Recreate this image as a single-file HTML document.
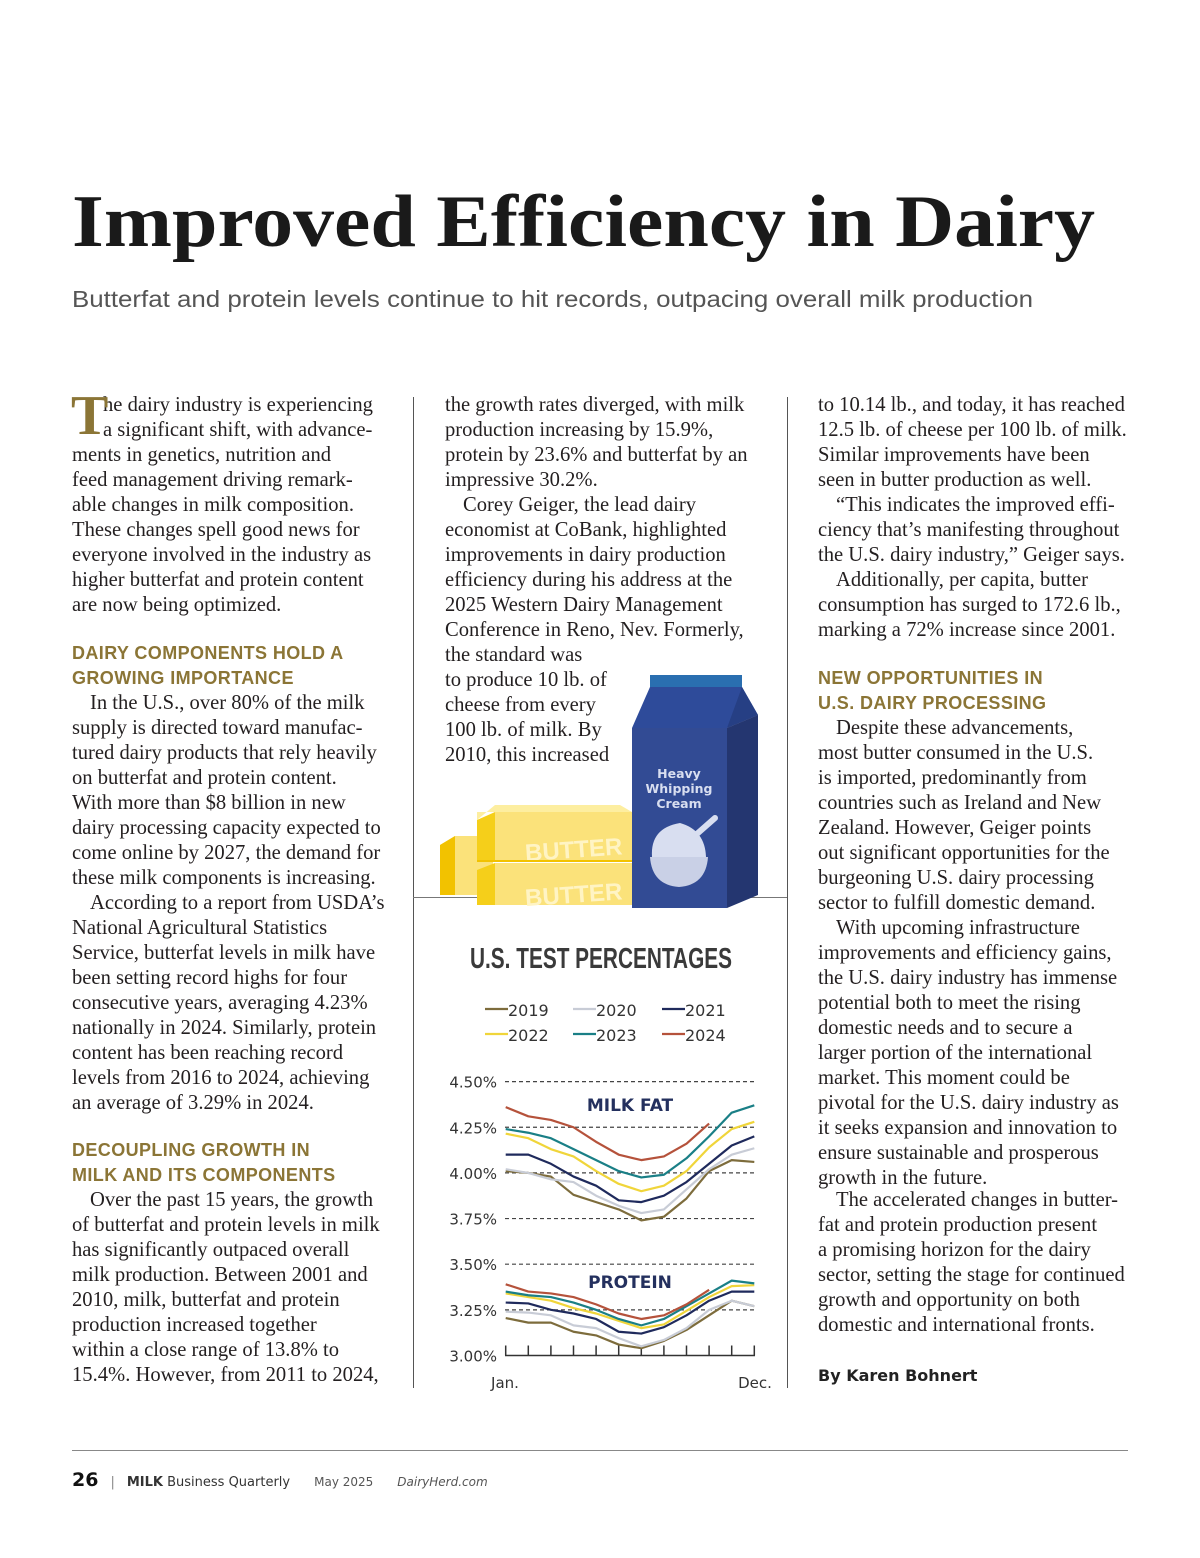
<!DOCTYPE html>
<html><head><meta charset="utf-8">
<style>
body{margin:0;background:#fff}
#page{position:relative;width:1200px;height:1558px;overflow:hidden;background:#fff;font-family:"Liberation Serif",serif;color:#231f20}
.l{position:absolute;font-size:20.6px;line-height:25px;white-space:nowrap;height:25px}
.h{position:absolute;font-family:"Liberation Sans",sans-serif;font-weight:bold;font-size:18px;line-height:25px;color:#8b7536;letter-spacing:0.4px;white-space:nowrap}
.rule{position:absolute;background:#555}
</style></head><body>
<div id="page">
<svg width="1200" height="340" style="position:absolute;left:0;top:0">
<text x="72" y="246" textLength="1023" lengthAdjust="spacingAndGlyphs" font-family="Liberation Serif,serif" font-weight="bold" font-size="74" fill="#1a1a1a">Improved Efficiency in Dairy</text>
<text x="72" y="307" textLength="961" lengthAdjust="spacingAndGlyphs" font-family="Liberation Sans,sans-serif" font-size="23" fill="#555">Butterfat and protein levels continue to hit records, outpacing overall milk production</text>
</svg>
<div class="rule" style="left:413px;top:397px;width:1px;height:991px"></div>
<div class="rule" style="left:787px;top:397px;width:1px;height:991px"></div>
<div class="rule" style="left:413px;top:897px;width:374px;height:1px;background:#777"></div>
<div id="c1"></div>
<div id="c2"></div>
<div id="c3"></div>
<div style="position:absolute;left:71px;top:388px;font-size:56px;line-height:56px;font-weight:bold;color:#8b7536;font-family:'Liberation Serif',serif">T</div>

<svg width="1200" height="1558" style="position:absolute;left:0;top:0" id="art">
<g>
<polygon points="440,845 455,836 493,836 493,895 440,895" fill="#fbe27a"/>
<polygon points="440,845 455,836 455,895 440,895" fill="#f2c200"/>
<polygon points="477,820 495,805 620,805 632,812 477,812" fill="#fdeea0"/>
<rect x="495" y="812" width="137" height="48" fill="#fbe27a"/>
<polygon points="477,820 495,812 495,860 477,860" fill="#f5cf1a"/>
<text x="525" y="858" font-family="Liberation Sans,sans-serif" font-weight="bold" font-size="24" fill="#fff4c4" transform="rotate(-4 570 850)">BUTTER</text>
<line x1="477" y1="861" x2="632" y2="861" stroke="#f2c200" stroke-width="2"/>
<rect x="495" y="863" width="137" height="42" fill="#fbe27a"/>
<polygon points="477,870 495,863 495,905 477,905" fill="#f5cf1a"/>
<text x="525" y="903" font-family="Liberation Sans,sans-serif" font-weight="bold" font-size="24" fill="#fff4c4" transform="rotate(-4 570 895)">BUTTER</text>
</g>
<g>
<rect x="650" y="675" width="92" height="12" fill="#2a6fb0"/>
<polygon points="650,687 742,687 758,715 727,728 632,728" fill="#2e4b9a"/>
<polygon points="742,687 758,715 727,728" fill="#263f84"/>
<rect x="632" y="728" width="95" height="180" fill="#324b94"/>
<polygon points="727,728 758,715 758,895 727,908" fill="#243670"/>
<text x="679" y="778" text-anchor="middle" font-family="DejaVu Sans,sans-serif" font-weight="bold" font-size="12.5" fill="#d8def0">Heavy</text>
<text x="679" y="793" text-anchor="middle" font-family="DejaVu Sans,sans-serif" font-weight="bold" font-size="12.5" fill="#d8def0">Whipping</text>
<text x="679" y="808" text-anchor="middle" font-family="DejaVu Sans,sans-serif" font-weight="bold" font-size="12.5" fill="#d8def0">Cream</text>
<line x1="690" y1="840" x2="715" y2="818" stroke="#d8def0" stroke-width="6" stroke-linecap="round"/>
<path d="M652,857 Q650,828 680,823 Q705,830 706,857 Z" fill="#d8def0"/>
<path d="M650,857 L708,857 Q706,885 679,887 Q652,885 650,857 Z" fill="#c9d0e6"/>
</g>
<text x="601" y="968" text-anchor="middle" font-family="Liberation Sans,sans-serif" font-weight="bold" font-size="29" fill="#3a3a3a" textLength="262" lengthAdjust="spacingAndGlyphs">U.S. TEST PERCENTAGES</text>
<g id="legend"></g>
<g id="grid"></g>
<g id="lines"></g>
<text x="630" y="1111" text-anchor="middle" font-family="DejaVu Sans,sans-serif" font-weight="bold" font-size="17" fill="#24305e">MILK FAT</text>
<text x="630" y="1288" text-anchor="middle" font-family="DejaVu Sans,sans-serif" font-weight="bold" font-size="17" fill="#24305e">PROTEIN</text>
<text x="505" y="1388" text-anchor="middle" font-family="DejaVu Sans,sans-serif" font-size="15" fill="#333">Jan.</text>
<text x="755" y="1388" text-anchor="middle" font-family="DejaVu Sans,sans-serif" font-size="15" fill="#333">Dec.</text>
</svg>

<div style="position:absolute;left:72px;top:1450px;width:1056px;height:1px;background:#888"></div>
<div style="position:absolute;left:72px;top:1468px;font-family:'DejaVu Sans',sans-serif;font-size:13px;line-height:24px;color:#333;white-space:nowrap"><b style="font-size:19px;color:#111">26</b><span style="margin:0 12px;color:#888">|</span><b>MILK</b> Business Quarterly<span style="margin-left:24px;font-size:12px;color:#555">May 2025</span><i style="margin-left:24px;font-size:12px;color:#555">DairyHerd.com</i></div>

<script>
const months = ["Jan","Feb","Mar","Apr","May","Jun","Jul","Aug","Sep","Oct","Nov","Dec"];
const years = ["2019","2020","2021","2022","2023","2024"];
const fat2019 = [4.01,4.00,3.98,3.88,3.84,3.80,3.74,3.76,3.86,4.01,4.07,4.06];
const fat2020 = [4.02,4.00,3.965,3.95,3.875,3.82,3.78,3.80,3.91,4.02,4.10,4.135];
const fat2021 = [4.10,4.10,4.05,3.98,3.93,3.85,3.84,3.875,3.95,4.05,4.15,4.20];
const fat2022 = [4.215,4.19,4.13,4.09,4.01,3.94,3.90,3.93,4.01,4.14,4.24,4.28];
const fat2023 = [4.24,4.22,4.19,4.13,4.07,4.01,3.975,3.99,4.08,4.20,4.33,4.37];
const fat2024 = [4.36,4.31,4.29,4.25,4.17,4.10,4.07,4.09,4.16,4.27];
const pro2019 = [3.205,3.18,3.18,3.13,3.11,3.06,3.04,3.08,3.14,3.22,3.30,3.27];
const pro2020 = [3.24,3.235,3.22,3.165,3.15,3.095,3.05,3.085,3.15,3.25,3.30,3.27];
const pro2021 = [3.29,3.285,3.25,3.23,3.20,3.13,3.12,3.155,3.22,3.30,3.35,3.35];
const pro2022 = [3.34,3.32,3.30,3.26,3.23,3.19,3.15,3.17,3.245,3.32,3.38,3.385];
const pro2023 = [3.35,3.33,3.32,3.29,3.25,3.20,3.165,3.20,3.27,3.34,3.41,3.395];
const pro2024 = [3.39,3.35,3.34,3.32,3.28,3.23,3.20,3.22,3.28,3.36];
const yTicks = [3.00,3.25,3.50,3.75,4.00,4.25,4.50];
const yTickLabels = ["3.00%","3.25%","3.50%","3.75%","4.00%","4.25%","4.50%"];
const colors = ["#7d6c3c","#c8ccd6","#1f2a5c","#f0d53a","#1a7f86","#b5523b"];
const fatSeries=[fat2019,fat2020,fat2021,fat2022,fat2023,fat2024];
const proSeries=[pro2019,pro2020,pro2021,pro2022,pro2023,pro2024];
const NS="http://www.w3.org/2000/svg";
function x(i){return 505.7+i*(248.6/(months.length-1));}
function y(v){return 1355.5-(v-3.0)*182.6;}
function mk(tag,attrs,parent){const e=document.createElementNS(NS,tag);for(const k in attrs)e.setAttribute(k,attrs[k]);parent.appendChild(e);return e;}
const grid=document.getElementById('grid');
yTicks.forEach((t,i)=>{
  const tl=mk('text',{x:497,y:y(t)+6,'text-anchor':'end','font-family':'DejaVu Sans,sans-serif','font-size':15,fill:'#333'},grid);
  tl.textContent=yTickLabels[i];
  
  
  if(i>0){
    const gl=mk('line',{x1:505,x2:756,y1:y(t),y2:y(t),stroke:'#444','stroke-width':1.2,'stroke-dasharray':'4 3'},grid);
    
    
  }
});
const ax=mk('line',{x1:505,x2:755,y1:y(3.0),y2:y(3.0),stroke:'#333','stroke-width':1.5},grid);


months.forEach((m,i)=>{
  const tk=mk('line',{x1:x(i),x2:x(i),y1:y(3.0),y2:y(3.0)-10,stroke:'#333','stroke-width':1.5},grid);
  
  
});
const lines=document.getElementById('lines');
function draw(series,kind){
  series.forEach((s,k)=>{
    const p=mk('polyline',{points:s.map((v,i)=>x(i)+','+y(v)).join(' '),fill:'none',stroke:colors[k],'stroke-width':2.2,'stroke-linejoin':'round'},lines);
    
    
  });
}
draw(fatSeries,'milk-fat');draw(proSeries,'protein');
const lg=document.getElementById('legend');
const lx=[485,573,662];
years.forEach((yr,k)=>{
  const cx=lx[k%3], cy=k<3?1009:1034;
  const ln=mk('line',{x1:cx,x2:cx+23,y1:cy,y2:cy,stroke:colors[k],'stroke-width':2.2},lg);
  
  
  const t=mk('text',{x:cx+23,y:cy+7,'font-family':'DejaVu Sans,sans-serif','font-size':16,fill:'#333'},lg);
  t.textContent=yr;
  
  
});

function col(id,left,items){
  const c=document.getElementById(id);
  items.forEach(([cy,txt,cls,ind])=>{
    const d=document.createElement('div');
    d.className=cls||'l';
    d.style.left=(left+(ind||0))+'px';
    d.style.top=(cy-12.5)+'px';
    d.textContent=txt;
    
    
    c.appendChild(d);
  });
}
function seq(start,lines,ind0){return lines.map((t,i)=>[start+25*i,t,'l',(i===0?ind0||0:0)]);}
const c1=[].concat(
 [[405,'he dairy industry is experiencing','l',31],[430,'a significant shift, with advance-','l',31]],
 seq(455,['ments in genetics, nutrition and','feed management driving remark-','able changes in milk composition.','These changes spell good news for','everyone involved in the industry as','higher butterfat and protein content','are now being optimized.']),
 [[653,'DAIRY COMPONENTS HOLD A','h'],[678,'GROWING IMPORTANCE','h']],
 seq(703,['In the U.S., over 80% of the milk','supply is directed toward manufac-','tured dairy products that rely heavily','on butterfat and protein content.','With more than $8 billion in new','dairy processing capacity expected to','come online by 2027, the demand for','these milk components is increasing.'],18),
 seq(903,['According to a report from USDA’s','National Agricultural Statistics','Service, butterfat levels in milk have','been setting record highs for four','consecutive years, averaging 4.23%','nationally in 2024. Similarly, protein','content has been reaching record','levels from 2016 to 2024, achieving','an average of 3.29% in 2024.'],18),
 [[1150,'DECOUPLING GROWTH IN','h'],[1175,'MILK AND ITS COMPONENTS','h']],
 seq(1200,['Over the past 15 years, the growth','of butterfat and protein levels in milk','has significantly outpaced overall','milk production. Between 2001 and','2010, milk, butterfat and protein','production increased together','within a close range of 13.8% to','15.4%. However, from 2011 to 2024,'],18)
);
col('c1',72,c1);
const c2=[].concat(
 seq(405,['the growth rates diverged, with milk','production increasing by 15.9%,','protein by 23.6% and butterfat by an','impressive 30.2%.']),
 seq(505,['Corey Geiger, the lead dairy','economist at CoBank, highlighted','improvements in dairy production','efficiency during his address at the','2025 Western Dairy Management','Conference in Reno, Nev. Formerly,','the standard was','to produce 10 lb. of','cheese from every','100 lb. of milk. By','2010, this increased'],18)
);
col('c2',445,c2);
const c3=[].concat(
 seq(405,['to 10.14 lb., and today, it has reached','12.5 lb. of cheese per 100 lb. of milk.','Similar improvements have been','seen in butter production as well.']),
 seq(505,['“This indicates the improved effi-','ciency that’s manifesting throughout','the U.S. dairy industry,” Geiger says.'],18),
 seq(580,['Additionally, per capita, butter','consumption has surged to 172.6 lb.,','marking a 72% increase since 2001.'],18),
 [[678,'NEW OPPORTUNITIES IN','h'],[703,'U.S. DAIRY PROCESSING','h']],
 seq(728,['Despite these advancements,','most butter consumed in the U.S.','is imported, predominantly from','countries such as Ireland and New','Zealand. However, Geiger points','out significant opportunities for the','burgeoning U.S. dairy processing','sector to fulfill domestic demand.'],18),
 seq(928,['With upcoming infrastructure','improvements and efficiency gains,','the U.S. dairy industry has immense','potential both to meet the rising','domestic needs and to secure a','larger portion of the international','market. This moment could be','pivotal for the U.S. dairy industry as','it seeks expansion and innovation to','ensure sustainable and prosperous','growth in the future.'],18),
 seq(1200,['The accelerated changes in butter-','fat and protein production present','a promising horizon for the dairy','sector, setting the stage for continued','growth and opportunity on both','domestic and international fronts.'],18)
);
col('c3',818,c3);
const by=document.createElement('div');
by.style.cssText='position:absolute;left:818px;top:1363px;font-family:"DejaVu Sans",sans-serif;font-weight:bold;font-size:16px;line-height:25px;color:#222';
by.textContent='By Karen Bohnert';


document.getElementById('c3').appendChild(by);
</script>
</div>
</body></html>
